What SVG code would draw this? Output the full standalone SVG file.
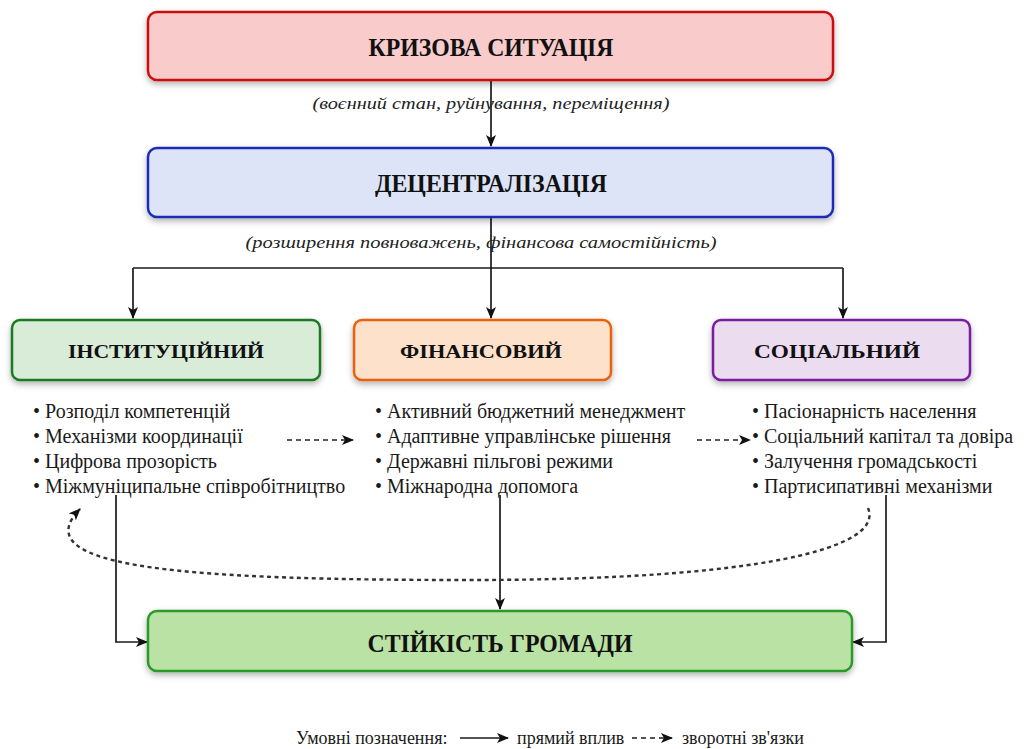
<svg xmlns="http://www.w3.org/2000/svg" width="1024" height="749" viewBox="0 0 1024 749">
<style>
.box{stroke-width:2.5}
.title{font-family:"Liberation Serif","DejaVu Serif",serif;font-weight:bold;fill:#111;text-anchor:middle}
.sub{font-family:"Liberation Serif","DejaVu Serif",serif;font-style:italic;font-size:16px;fill:#222;text-anchor:middle}
.bul{font-family:"Liberation Serif","DejaVu Serif",serif;font-size:20px;fill:#1a1a1a}
.leg{font-family:"Liberation Serif","DejaVu Serif",serif;font-size:18px;fill:#1a1a1a}
.ln{fill:none;stroke:#1a1a1a;stroke-width:1.7}
.dash{fill:none;stroke:#222;stroke-width:1.7;stroke-dasharray:5 4}
.curve{fill:none;stroke:#333;stroke-width:2.4;stroke-dasharray:4 3.5}
</style>
<defs>
<filter id="sh" x="-5%" y="-20%" width="110%" height="150%">
<feDropShadow dx="0" dy="3" stdDeviation="3" flood-color="#000" flood-opacity="0.3"/>
</filter>
<marker id="ah" viewBox="0 0 12 10" refX="11" refY="5" markerWidth="12" markerHeight="10" markerUnits="userSpaceOnUse" orient="auto">
<path d="M0,0 L12,5 L0,10 L3,5 Z" fill="#111"/>
</marker>
</defs>

<g id="connectors">
<path class="ln" d="M491 80 V146" marker-end="url(#ah)"/>
<path class="ln" d="M491 217 V318" marker-end="url(#ah)"/>
<path class="ln" d="M133 268 H843"/>
<path class="ln" d="M133 268 V318" marker-end="url(#ah)"/>
<path class="ln" d="M843 268 V318" marker-end="url(#ah)"/>
<path class="ln" d="M116 495 V642 H147" marker-end="url(#ah)"/>
<path class="ln" d="M500 495 V609" marker-end="url(#ah)"/>
<path class="ln" d="M886 495 V642 H853" marker-end="url(#ah)"/>
<path class="dash" d="M287 440 H353" marker-end="url(#ah)"/>
<path class="dash" d="M697 440 H750" marker-end="url(#ah)"/>
<path class="curve" d="M868 508 C 885 548, 760 580, 470 580 C 200 580, 20 570, 80 509" marker-end="url(#ah)"/>
</g>

<g id="n-crisis">
<rect class="box" x="148" y="12" width="685" height="68" rx="9" fill="#f9cbcb" stroke="#cc1010" filter="url(#sh)"/>
<text class="title" x="491" y="56" font-size="25" textLength="245" lengthAdjust="spacingAndGlyphs">КРИЗОВА СИТУАЦІЯ</text>
</g>
<text class="sub" x="491" y="109" textLength="357" lengthAdjust="spacingAndGlyphs">(воєнний стан, руйнування, переміщення)</text>

<g id="n-decentr">
<rect class="box" x="148" y="148" width="685" height="69" rx="9" fill="#dde4f8" stroke="#1a2cb8" filter="url(#sh)"/>
<text class="title" x="491" y="192" font-size="25" textLength="232" lengthAdjust="spacingAndGlyphs">ДЕЦЕНТРАЛІЗАЦІЯ</text>
</g>
<text class="sub" x="481" y="248" textLength="471" lengthAdjust="spacingAndGlyphs">(розширення повноважень, фінансова самостійність)</text>

<g id="n-inst">
<rect class="box" x="12" y="320" width="308" height="60" rx="8" fill="#d8ecd8" stroke="#1b7a22" filter="url(#sh)"/>
<text class="title" x="166" y="358" font-size="18" textLength="196" lengthAdjust="spacingAndGlyphs">ІНСТИТУЦІЙНИЙ</text>
</g>
<g id="n-fin">
<rect class="box" x="354" y="320" width="257" height="60" rx="8" fill="#fde1cb" stroke="#e8620c" filter="url(#sh)"/>
<text class="title" x="481" y="358" font-size="18" textLength="162" lengthAdjust="spacingAndGlyphs">ФІНАНСОВИЙ</text>
</g>
<g id="n-soc">
<rect class="box" x="713" y="320" width="257" height="60" rx="8" fill="#ebdcf0" stroke="#7a1fa0" filter="url(#sh)"/>
<text class="title" x="837" y="358" font-size="18" textLength="166" lengthAdjust="spacingAndGlyphs">СОЦІАЛЬНИЙ</text>
</g>

<g id="list-inst" class="bul">
<text x="33" y="418">• Розподіл компетенцій</text>
<text x="33" y="443">• Механізми координації</text>
<text x="33" y="468">• Цифрова прозорість</text>
<text x="33" y="493">• Міжмуніципальне співробітництво</text>
</g>
<g id="list-fin" class="bul">
<text x="375" y="418">• Активний бюджетний менеджмент</text>
<text x="375" y="443">• Адаптивне управлінське рішення</text>
<text x="375" y="468">• Державні пільгові режими</text>
<text x="375" y="493">• Міжнародна допомога</text>
</g>
<g id="list-soc" class="bul">
<text x="752" y="418">• Пасіонарність населення</text>
<text x="752" y="443">• Соціальний капітал та довіра</text>
<text x="752" y="468">• Залучення громадськості</text>
<text x="752" y="493">• Партисипативні механізми</text>
</g>

<g id="n-result">
<rect class="box" x="148" y="611" width="704" height="60" rx="9" fill="#b9e2a4" stroke="#2a9a2a" filter="url(#sh)"/>
<text class="title" x="500" y="652" font-size="25" textLength="265" lengthAdjust="spacingAndGlyphs">СТІЙКІСТЬ ГРОМАДИ</text>
</g>

<g id="legend">
<text class="leg" x="296" y="744">Умовні позначення:</text>
<path class="ln" d="M460 738 H508" stroke-width="2" marker-end="url(#ah)"/>
<text class="leg" x="517" y="744">прямий вплив</text>
<path class="ln" d="M632 738 H672" stroke-width="2" stroke-dasharray="5 4" marker-end="url(#ah)"/>
<text class="leg" x="682" y="744">зворотні зв'язки</text>
</g>
</svg>
